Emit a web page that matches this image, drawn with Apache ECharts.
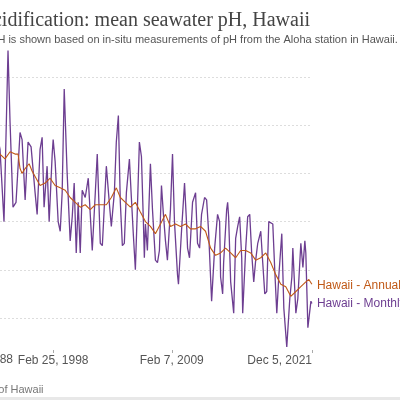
<!DOCTYPE html>
<html><head><meta charset="utf-8">
<script src="https://cdn.jsdelivr.net/npm/echarts@6/dist/echarts.min.js"></script>
<style>html,body{margin:0;padding:0;background:#fff}#c{width:400px;height:400px}</style>
</head><body><div id="c"></div>
<script>
const monthlyYears=[1988.8,1989.3,1989.8,1990.3,1990.8,1991.3,1991.8,1992.3,1992.8,
1993.24,1993.61,1993.98,1994.17,1994.44,1994.72,1995.09,1995.28,1995.56,1995.83,1996.11,1996.48,1996.67,1996.94,1997.13,1997.31,1997.59,1997.78,1998.06,1998.15,1998.33,1998.61,1998.80,1998.98,1999.17,1999.44,1999.72,1999.91,2000.09,2000.28,2000.46,2000.65,2000.83,2001.11,2001.39,2001.76,2002.04,2002.22,2002.50,2002.69,2003.06,2003.33,2003.52,2003.80,2003.98,2004.17,2004.35,2004.54,2004.72,2004.91,2005.19,2005.37,2005.56,2005.65,2005.74,2005.93,2006.11,2006.30,2006.48,2006.57,2006.67,2006.85,2007.13,2007.32,2007.59,2007.78,2007.96,2008.15,2008.33,2008.52,2008.70,2008.98,2009.17,2009.35,2009.63,2009.72,2010.00,2010.28,2010.46,2010.56,2010.74,2011.02,2011.30,2011.48,2011.67,2011.85,2012.13,2012.32,2012.50,2012.78,2013.06,2013.33,2013.52,2013.61,2013.80,2013.89,2014.17,2014.26,2014.35,2014.54,2014.82,2015.00,2015.19,2015.37,2015.56,2015.65,2015.93,2016.11,2016.30,2016.48,2016.67,2016.85,2017.04,2017.32,2017.50,2017.69,2017.87,2018.06,2018.24,2018.43,2018.61,2018.80,2018.98,2019.26,2019.45,2019.72,2020.00,2020.19,2020.28,2020.56,2020.74,2021.02,2021.21,2021.39,2021.48,2021.67,2021.95,2022.04];
const monthlyPH=[8.10,8.07,8.11,8.075,8.10,8.07,8.105,8.07,8.10,
8.090,8.060,8.131,8.101,8.066,8.068,8.097,8.094,8.069,8.093,8.091,8.072,8.063,8.090,8.095,8.066,8.083,8.060,8.088,8.094,8.085,8.060,8.056,8.072,8.115,8.080,8.052,8.062,8.076,8.047,8.068,8.047,8.073,8.070,8.078,8.048,8.072,8.088,8.051,8.050,8.083,8.068,8.058,8.072,8.093,8.104,8.068,8.050,8.051,8.072,8.086,8.070,8.054,8.047,8.040,8.066,8.093,8.087,8.060,8.045,8.059,8.048,8.084,8.065,8.044,8.043,8.048,8.075,8.063,8.052,8.044,8.065,8.088,8.060,8.038,8.034,8.056,8.076,8.060,8.049,8.045,8.068,8.072,8.051,8.049,8.063,8.070,8.069,8.056,8.027,8.049,8.063,8.060,8.037,8.030,8.043,8.065,8.068,8.062,8.035,8.022,8.053,8.058,8.062,8.045,8.022,8.049,8.062,8.063,8.047,8.035,8.044,8.051,8.056,8.043,8.030,8.031,8.060,8.060,8.059,8.040,8.022,8.037,8.055,8.024,8.008,8.028,8.037,8.049,8.022,8.028,8.051,8.041,8.052,8.047,8.016,8.027,8.026];
const annualYears=[1988.8,1990,1991,1992,1993.24,1993.70,1994.17,1994.63,1994.91,1995.09,1995.28,1995.56,1995.93,1996.20,1996.57,1996.94,1997.41,1997.87,1998.33,1998.80,1999.26,1999.72,2000.19,2000.65,2001.11,2001.57,2002.04,2002.50,2003.06,2003.52,2003.98,2004.35,2004.82,2005.28,2005.74,2006.20,2006.67,2007.13,2007.59,2008.06,2008.52,2008.98,2009.45,2009.91,2010.37,2010.83,2011.30,2011.76,2012.22,2012.69,2013.15,2013.61,2014.07,2014.54,2015.00,2015.46,2015.93,2016.39,2016.85,2017.32,2017.78,2018.24,2018.70,2019.17,2019.63,2020.09,2020.56,2021.02,2021.48,2021.76,2022.04];
const annualPH=[8.092,8.090,8.089,8.088,8.088,8.086,8.089,8.088,8.088,8.082,8.080,8.082,8.084,8.081,8.078,8.075,8.076,8.078,8.075,8.074,8.073,8.070,8.068,8.066,8.067,8.065,8.067,8.067,8.067,8.070,8.074,8.070,8.068,8.066,8.068,8.064,8.060,8.058,8.055,8.059,8.063,8.058,8.059,8.058,8.059,8.057,8.057,8.058,8.056,8.049,8.046,8.047,8.049,8.047,8.045,8.048,8.048,8.047,8.044,8.045,8.047,8.043,8.038,8.034,8.033,8.029,8.031,8.033,8.035,8.036,8.034];
const tickValues=[1998.15,2009.1,2022.05];
const tickLabels=['Feb 25, 1998','Feb 7, 2009','Dec 5, 2021'];
const firstLabel='Oct 30, 1988';
const pair=(a,b)=>a.map((v,i)=>[v,b[i]]);
const chart=echarts.init(document.getElementById('c'));
chart.setOption({
  animation:false,
  title:[{text:'Ocean acidification: mean seawater pH, Hawaii',left:-77,top:6,textStyle:{fontFamily:'Liberation Serif',fontSize:20,fontWeight:'normal',color:'#444'}},
    {text:'Mean seawater pH is shown based on in-situ measurements of pH from the Aloha station in Hawaii.',left:-92,top:29,textStyle:{fontFamily:'Liberation Sans',fontSize:11,fontWeight:'normal',color:'#555'}},
    {text:'Source: University of Hawaii',left:-99,top:379,textStyle:{fontFamily:'Liberation Sans',fontSize:11,fontWeight:'normal',color:'#777'}}],
  graphic:[{type:'rect',shape:{x:0,y:397,width:400,height:3},style:{fill:'#e8e8e8'}},
    {type:'text',x:13,y:360,style:{text:firstLabel,align:'right',verticalAlign:'middle',fill:'#555',font:'12px Liberation Sans'}}],
  grid:{left:0,right:88,top:77,bottom:82},
  xAxis:{type:'value',min:1993.24,max:2022.05,offset:32,splitLine:{show:false},axisLine:{show:false},
    axisTick:{show:true,customValues:tickValues,length:3,lineStyle:{color:'#aaa'}},
    axisLabel:{customValues:tickValues,formatter:v=>{const i=tickValues.findIndex(t=>Math.abs(t-v)<0.01);return i>=0?tickLabels[i]:'';},
      alignMaxLabel:'right',margin:5,fontFamily:'Liberation Sans',fontSize:12,color:'#555'}},
  yAxis:{type:'value',min:8.02,max:8.12,interval:0.02,axisLabel:{show:false},axisLine:{show:false},axisTick:{show:false},
    splitLine:{lineStyle:{color:'#ddd',type:[2,2]}}},
  series:[
    {type:'line',data:pair(monthlyYears,monthlyPH),showSymbol:false,clip:false,lineStyle:{color:'#6d3e91',width:1.3},
     endLabel:{show:true,formatter:'Hawaii - Monthly pH measurement',color:'#6d3e91',fontFamily:'Liberation Sans',fontSize:12,offset:[-3,0]}},
    {type:'line',data:pair(annualYears,annualPH),showSymbol:false,clip:false,lineStyle:{color:'#c05917',width:1.1},
     endLabel:{show:true,formatter:'Hawaii - Annual average',color:'#c05917',fontFamily:'Liberation Sans',fontSize:12,offset:[-3,1]}}
  ]
});
</script></body></html>
